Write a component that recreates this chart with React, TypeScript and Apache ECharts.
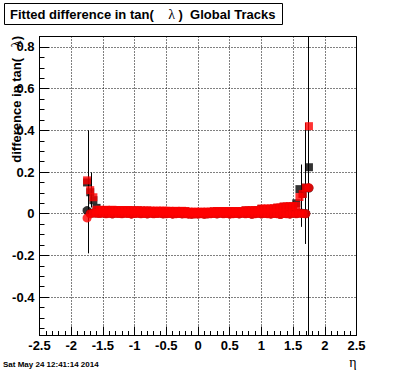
import React, { useEffect, useRef } from "react";
import * as echarts from "echarts";

// ---- data ----
const etaBins = [
  -1.75, -1.7, -1.65, -1.6, -1.55, -1.5, -1.45, -1.4, -1.35, -1.3,
  -1.25, -1.2, -1.15, -1.1, -1.05, -1.0, -0.95, -0.9, -0.85, -0.8,
  -0.75, -0.7, -0.65, -0.6, -0.55, -0.5, -0.45, -0.4, -0.35, -0.3,
  -0.25, -0.2, -0.15, -0.1, -0.05, 0.0, 0.05, 0.1, 0.15, 0.2,
  0.25, 0.3, 0.35, 0.4, 0.45, 0.5, 0.55, 0.6, 0.65, 0.7,
  0.75, 0.8, 0.85, 0.9, 0.95, 1.0, 1.05, 1.1, 1.15, 1.2,
  1.25, 1.3, 1.35, 1.4, 1.45, 1.5, 1.55, 1.6, 1.65, 1.7,
  1.75,
];

const redSquares = [
  0.16, 0.113, 0.079, 0.019, 0.019, 0.018, 0.019, 0.018, 0.019, 0.018,
  0.017, 0.018, 0.017, 0.018, 0.017, 0.016, 0.017, 0.016, 0.015, 0.016,
  0.015, 0.014, 0.015, 0.014, 0.015, 0.014, 0.014, 0.013, 0.014, 0.013,
  0.014, 0.013, 0.01, 0.009, 0.01, 0.009, 0.01, 0.009, 0.01, 0.01,
  0.012, 0.013, 0.012, 0.013, 0.012, 0.013, 0.012, 0.013, 0.012, 0.013,
  0.017, 0.016, 0.017, 0.017, 0.018, 0.025, 0.024, 0.025, 0.025, 0.026,
  0.03, 0.03, 0.035, 0.035, 0.036, 0.036, 0.038, 0.08, 0.095, 0.125,
  0.42,
];

const blackSquares = [
  0.15, 0.103, 0.065, 0.028, 0.017, 0.016, 0.017, 0.016, 0.017, 0.016,
  0.015, 0.016, 0.015, 0.016, 0.015, 0.014, 0.015, 0.014, 0.013, 0.014,
  0.013, 0.012, 0.013, 0.012, 0.013, 0.012, 0.012, 0.011, 0.012, 0.011,
  0.012, 0.011, 0.008, 0.007, 0.008, 0.007, 0.008, 0.007, 0.008, 0.008,
  0.01, 0.011, 0.01, 0.011, 0.01, 0.011, 0.01, 0.011, 0.01, 0.011,
  0.015, 0.014, 0.015, 0.015, 0.016, 0.023, 0.022, 0.023, 0.023, 0.024,
  0.028, 0.028, 0.033, 0.033, 0.034, 0.034, 0.05, 0.118, 0.095, 0.125,
  0.223,
];

const redCircles = [
  -0.02, 0.0, 0.003, 0.002, 0.001, 0.003, 0.0, 0.002, -0.001, 0.002,
  0.001, 0.0, 0.002, 0.001, -0.002, 0.001, 0.002, 0.0, 0.001, -0.001,
  0.002, 0.0, 0.001, 0.002, -0.001, 0.0, 0.001, -0.002, 0.0, 0.001,
  -0.001, 0.0, -0.002, -0.003, -0.001, -0.002, 0.0, -0.003, -0.001, 0.0,
  0.001, -0.001, 0.002, 0.0, 0.001, -0.002, 0.0, 0.001, -0.001, 0.002,
  0.0, 0.001, -0.003, 0.0, 0.002, -0.001, 0.001, 0.0, -0.002, 0.001,
  0.0, -0.004, 0.001, 0.0, -0.002, 0.003, 0.0, 0.002, 0.001, 0.0,
  0.125,
];

const blackCircles = [
  0.015, 0.002, 0.004, 0.003, 0.002, 0.004, 0.001, 0.003, 0.0, 0.003,
  0.002, 0.001, 0.003, 0.002, -0.001, 0.002, 0.003, 0.001, 0.002, 0.0,
  0.003, 0.001, 0.002, 0.003, 0.0, 0.001, 0.002, -0.001, 0.001, 0.002,
  0.0, 0.001, -0.001, -0.002, 0.0, -0.001, 0.001, -0.002, 0.0, 0.001,
  0.002, 0.0, 0.003, 0.001, 0.002, -0.001, 0.001, 0.002, 0.0, 0.003,
  0.001, 0.002, -0.002, 0.001, 0.003, 0.0, 0.002, 0.001, -0.001, 0.002,
  0.001, -0.003, 0.002, 0.001, -0.001, 0.004, 0.001, 0.003, 0.002, 0.001,
  0.123,
];

// visible error bars (eta, low, high)
const errEta = [-1.74, -1.69, 1.62, 1.68, 1.735];
const errLow = [-0.19, 0.03, -0.063, -0.145, -0.75];
const errHigh = [0.4, 0.198, 0.236, 0.435, 1.0];

// axes
const X_MIN = -2.5;
const X_MAX = 2.5;
const X_STEP = 0.5;
const Y_MIN = -0.584;
const Y_MAX = 0.85;
const Y_STEP = 0.2;

const titleText = "Fitted difference in tan(";
const titleGreek = "λ";
const titleTail = " )  Global Tracks";
const yTitleText = "difference in tan(";
const yTitleGreek = "λ";
const xTitleText = "η";
const dateText = "Sat May 24 12:41:14 2014";

const SANS = '"Liberation Sans", Arial, Helvetica, sans-serif';
const SERIF = '"Liberation Serif", "DejaVu Serif", serif';

export default function App() {
  const ref = useRef<HTMLDivElement>(null);
  useEffect(() => {
    document.body.style.margin = "0";
    const chart = echarts.init(ref.current!, null, { renderer: "svg" });
    const pts = (vals: (number | null)[]) =>
      etaBins.map((e, i) => [e, vals[i]]).filter((p) => p[1] != null);

    const yLabel = (v: number) => {
      const k = v / Y_STEP;
      if (Math.abs(k - Math.round(k)) > 1e-6) return "";
      const r = Math.round(k) * Y_STEP;
      return String(+r.toFixed(1));
    };

    const rich = {
      b: { fontFamily: SANS, fontWeight: "bold", fontSize: 13, fill: "#000", color: "#000" },
      l: { fontFamily: SERIF, fontWeight: "normal", fontSize: 14, fill: "#000", color: "#000" },
    };

    chart.setOption({
      animation: false,
      backgroundColor: "#fff",
      grid: {
        left: 39.5,
        right: 39.5,
        top: 36.5,
        bottom: 36.5,
        show: true,
        borderColor: "#000",
        borderWidth: 1,
        containLabel: false,
        outerBoundsMode: "none",
      },
      xAxis: {
        type: "value",
        min: X_MIN,
        max: X_MAX,
        interval: X_STEP,
        axisLine: { show: true, onZero: false, lineStyle: { color: "#000", width: 1 } },
        axisTick: { show: true, inside: true, length: 9, lineStyle: { color: "#000", width: 1 } },
        minorTick: { show: true, splitNumber: 5, length: 4.5, lineStyle: { color: "#000", width: 1 } },
        axisLabel: {
          color: "#000",
          fontFamily: SANS,
          fontWeight: "bold",
          fontSize: 13,
          margin: 3,
          showMinLabel: true,
          showMaxLabel: true,
        },
        splitLine: { show: true, lineStyle: { color: "#000", width: 1, type: [1, 2] } },
      },
      yAxis: {
        type: "value",
        min: Y_MIN,
        max: Y_MAX,
        minInterval: Y_STEP,
        maxInterval: Y_STEP,
        axisLine: { show: true, onZero: false, lineStyle: { color: "#000", width: 1 } },
        axisTick: { show: true, inside: true, length: 9.5, lineStyle: { color: "#000", width: 1 } },
        minorTick: { show: true, splitNumber: 4, length: 5, lineStyle: { color: "#000", width: 1 } },
        axisLabel: {
          color: "#000",
          fontFamily: SANS,
          fontWeight: "bold",
          fontSize: 13,
          margin: 5,
          formatter: yLabel,
        },
        splitLine: { show: true, lineStyle: { color: "#000", width: 1, type: [1, 2] } },
      },
      graphic: [
        {
          type: "rect",
          shape: { x: 4.5, y: 3.5, width: 278, height: 21 },
          style: { fill: "#fff", stroke: "#000", lineWidth: 1 },
          z: 10,
        },
        {
          type: "text",
          x: 10,
          y: 14.5,
          z: 11,
          style: {
            text: `{b|${titleText}}{b|    }{l|${titleGreek}}{b|${titleTail}}`,
            rich,
            verticalAlign: "middle",
            textVerticalAlign: "middle",
          },
        },
        {
          type: "text",
          x: 16,
          y: 36,
          rotation: Math.PI / 2,
          z: 11,
          style: {
            text: `{b|${yTitleText}}{b|   }{l|${yTitleGreek}}{b|)}`,
            rich,
            align: "right",
            textAlign: "right",
            verticalAlign: "middle",
            textVerticalAlign: "middle",
          },
        },
        {
          type: "text",
          x: 356.5,
          y: 362,
          z: 11,
          style: {
            text: xTitleText,
            font: `normal 14px ${SERIF}`,
            fill: "#000",
            align: "right",
            textAlign: "right",
            verticalAlign: "middle",
            textVerticalAlign: "middle",
          },
        },
        {
          type: "text",
          x: 3,
          y: 364,
          z: 11,
          style: {
            text: dateText,
            font: `bold 8px ${SANS}`,
            fill: "#000",
            verticalAlign: "middle",
            textVerticalAlign: "middle",
          },
        },
      ],
      series: [
        {
          type: "custom",
          name: "error bars",
          clip: true,
          silent: true,
          z: 2,
          encode: { x: 0, y: [1, 2] },
          data: errEta.map((e, i) => [e, errLow[i], errHigh[i]]),
          renderItem: (_params: any, api: any) => {
            const x = api.value(0);
            const a = api.coord([x, api.value(1)]);
            const b = api.coord([x, api.value(2)]);
            const px = Math.round(a[0]) + 0.5;
            return {
              type: "line",
              shape: { x1: px, y1: a[1], x2: px, y2: b[1] },
              style: { stroke: "#000", lineWidth: 1 },
            };
          },
        },
        {
          type: "scatter",
          name: "black squares",
          symbol: "rect",
          symbolSize: 8,
          itemStyle: { color: "#000" },
          data: pts(blackSquares),
          z: 3,
        },
        {
          type: "scatter",
          name: "black circles",
          symbol: "circle",
          symbolSize: 9,
          itemStyle: { color: "#000" },
          data: pts(blackCircles),
          z: 3,
        },
        {
          type: "scatter",
          name: "red circles",
          symbol: "circle",
          symbolSize: 9,
          itemStyle: { color: "#ff0000" },
          data: pts(redCircles),
          z: 4,
        },
        {
          type: "scatter",
          name: "red squares",
          symbol: "rect",
          symbolSize: 8,
          itemStyle: { color: "#ff0000" },
          data: pts(redSquares),
          z: 5,
        },
      ],
    });
    return () => chart.dispose();
  }, []);
  return <div ref={ref} style={{ width: 396, height: 372 }} />;
}
